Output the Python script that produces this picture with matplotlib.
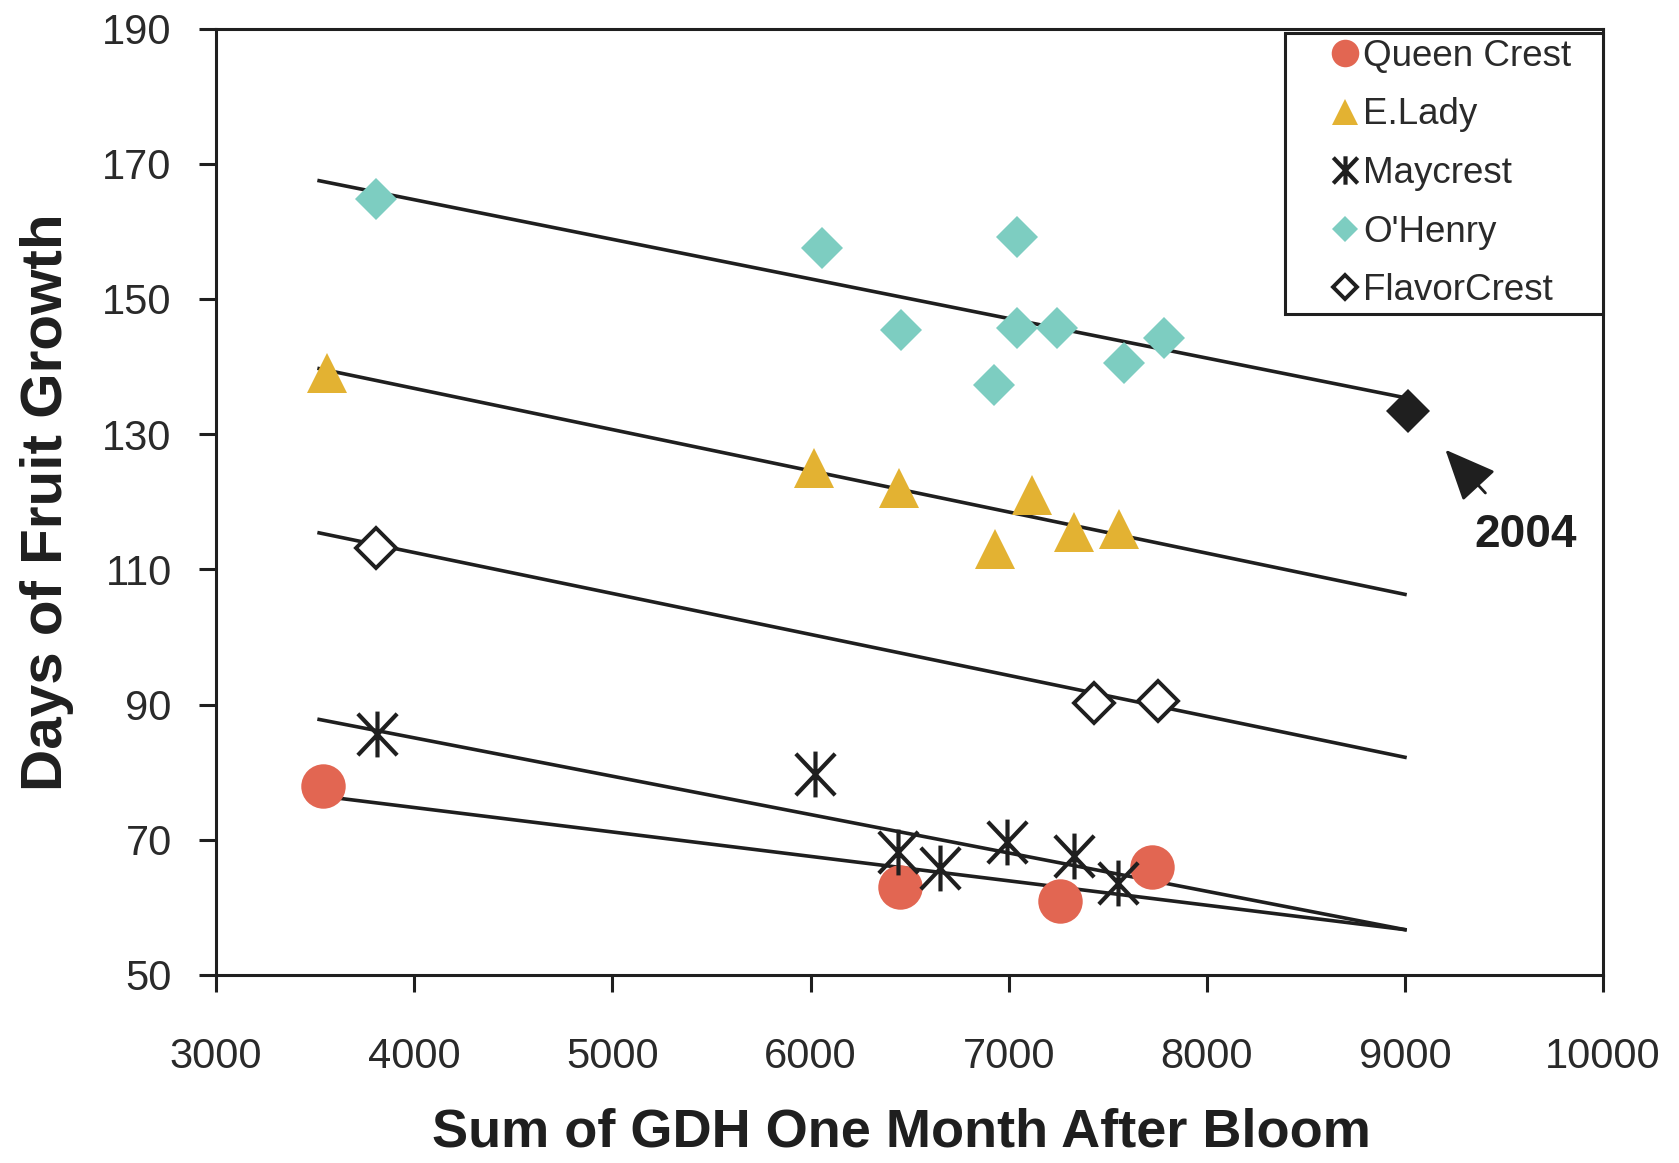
import matplotlib
matplotlib.use("Agg")
import matplotlib.pyplot as plt
from matplotlib.path import Path

plt.rcParams["font.family"] = ["Liberation Sans", "DejaVu Sans"]

# values (GDH sum, days of fruit growth)
qc_x = [3540, 6450, 7260, 7725]
qc_y = [78.0, 63.0, 61.0, 66.0]

el_x = [3560, 6020, 6445, 7120, 6930, 7330, 7555]
el_y = [139.0, 125.0, 122.0, 121.0, 113.0, 115.5, 116.0]

mc_x = [3810, 6025, 6440, 6655, 6990, 7330, 7550]
mc_y = [85.7, 79.7, 68.2, 65.8, 69.6, 67.6, 63.6]

oh_x = [3806, 6056, 6456, 7042, 7042, 7244, 6924, 7580, 7785]
oh_y = [164.8, 157.6, 145.4, 159.2, 145.7, 145.7, 137.3, 140.6, 144.2]

fc_x = [3806, 7429, 7754]
fc_y = [113.2, 90.2, 90.5]

# 2004 season
oh_2004_x = [9014]
oh_2004_y = [133.5]

# fitted lines: start / end x and y
fit_x = [3520, 9000]
oh_fit = [167.5, 135.4]
el_fit = [139.7, 106.3]
fc_fit = [115.4, 82.2]
mc_fit = [87.8, 56.7]
qc_fit = [76.5, 56.7]

red = "#e26652"
gold = "#e3b232"
teal = "#7dcdc1"
ink = "#1f1f1f"

# x with a vertical bar through it
star = Path([(-0.9, -0.95), (0.9, 0.95), (-0.9, 0.95), (0.9, -0.95),
             (0, -1.05), (0, 1.05)],
            [Path.MOVETO, Path.LINETO, Path.MOVETO, Path.LINETO,
             Path.MOVETO, Path.LINETO])

fig = plt.figure(figsize=(16.79, 11.63), dpi=100)
ax = fig.add_axes([0.1287, 0.1617, 0.8261, 0.8137])

for fy in [oh_fit, el_fit, fc_fit, mc_fit, qc_fit]:
    ax.plot(fit_x, fy, "-", color=ink, lw=2.6, zorder=2)

ax.plot(qc_x, qc_y, "o", ls="none", ms=32, color=red, mec=red, mew=0,
        label="Queen Crest", zorder=3)
ax.plot(el_x, el_y, "^", ls="none", ms=29.5, color=gold, mec=gold, mew=0,
        label="E.Lady", zorder=3)
ax.plot(mc_x, mc_y, marker=star, ls="none", ms=33, color=ink, mec=ink,
        mew=3, label="Maycrest", zorder=3)
ax.plot(oh_x, oh_y, "D", ls="none", ms=21.5, color=teal, mec=teal, mew=0,
        label="O'Henry", zorder=3)
ax.plot(fc_x, fc_y, "D", ls="none", ms=20, mfc="white", mec=ink, mew=2.8,
        label="FlavorCrest", zorder=3)
ax.plot(oh_2004_x, oh_2004_y, "D", ls="none", ms=22.5, color=ink, mew=0,
        zorder=3)

ax.annotate("", xy=(9204, 127.7), xytext=(9406, 121.3),
            arrowprops=dict(arrowstyle="-|>,head_length=0.8,head_width=0.35",
                            color=ink, lw=2, mutation_scale=40,
                            shrinkA=0, shrinkB=0))
ax.text(9608, 115.1, "2004", fontsize=33, fontweight="bold", color=ink,
        ha="center", va="center")

ax.set_xlim(3000, 10000)
ax.set_ylim(50, 190)
ax.set_xticks(range(3000, 10001, 1000))
ax.set_yticks(range(50, 191, 20))

for s in ax.spines.values():
    s.set_linewidth(2.2)
    s.set_color(ink)
ax.tick_params(direction="out", length=12, width=2.2, color=ink,
               labelsize=30, labelcolor="#2a2a2a", pad=20)
ax.tick_params(axis="x", pad=33)

ax.set_xlabel("Sum of GDH One Month After Bloom", fontsize=39,
              fontweight="bold", color=ink, labelpad=22)
ax.xaxis.label.set_x(0.494)
ax.set_ylabel("Days of Fruit Growth", fontsize=42, fontweight="bold",
              color=ink, labelpad=20)

leg = ax.legend(loc="upper left", bbox_to_anchor=(0.7707, 0.0, 0.2293, 0.995),
                mode="expand", borderaxespad=0, fontsize=26.5,
                markerscale=0.62, handlelength=2.97, handletextpad=-1.0,
                labelspacing=0.64, borderpad=0.15, fancybox=False,
                framealpha=1)
leg.get_frame().set_edgecolor(ink)
leg.get_frame().set_linewidth(2.2)
for t in leg.get_texts():
    t.set_color("#2a2a2a")

fig.savefig("out.png", dpi=100)
